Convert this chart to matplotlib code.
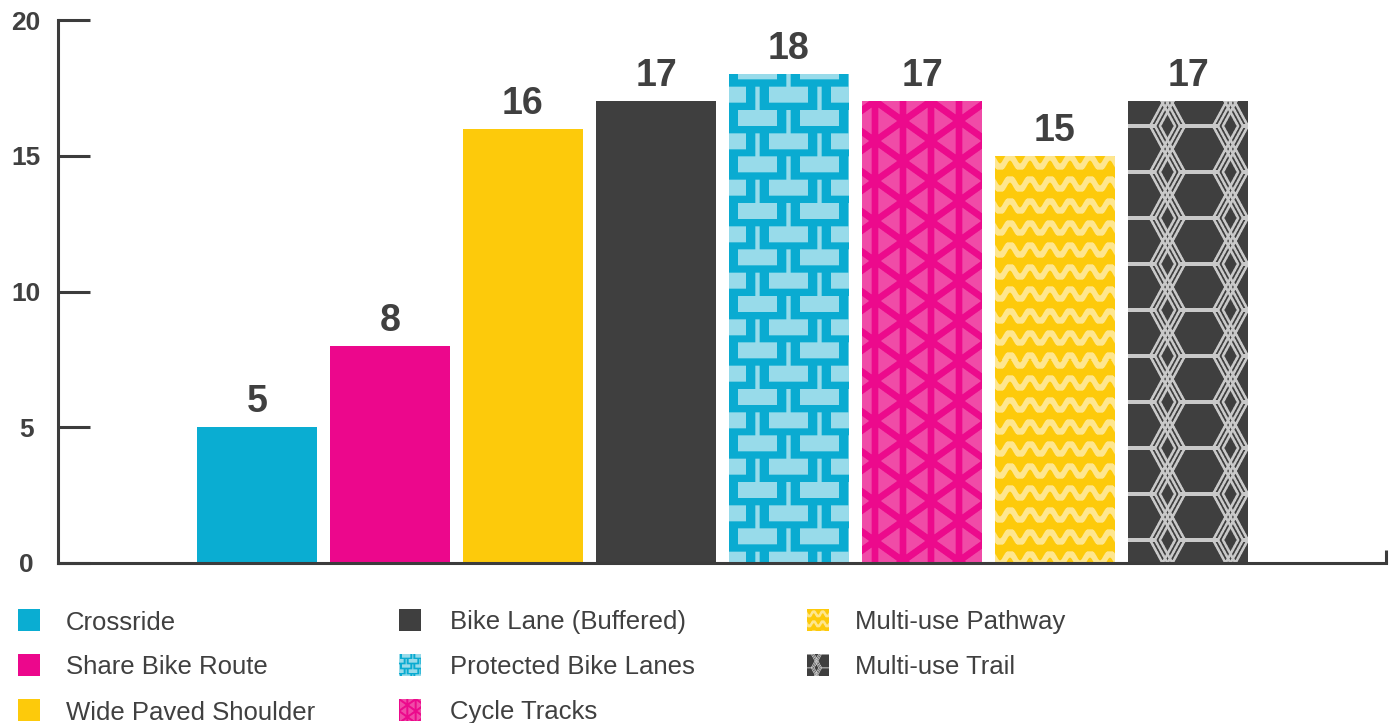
import numpy as np
import matplotlib
matplotlib.use('Agg')
import matplotlib.pyplot as plt
from matplotlib.colors import to_rgb

plt.rcParams['font.family'] = ['Liberation Sans', 'DejaVu Sans']

CATEGORIES = ['Crossride', 'Share Bike Route', 'Wide Paved Shoulder', 'Bike Lane (Buffered)',
              'Protected Bike Lanes', 'Cycle Tracks', 'Multi-use Pathway', 'Multi-use Trail']
VALUES = [5, 8, 16, 17, 18, 17, 15, 17]
BASE_COLORS = ['#0aadd2', '#ec078c', '#fdca0b', '#3f3f3f',
               '#0aabd1', '#ec0a8c', '#fdca0b', '#3f3f3f']
LIGHT_COLORS = [None, None, None, None, '#98dbea', '#f04ba7', '#fee68f', '#c9c9c9']
PATTERNS = [None, None, None, None, 'protected', 'cycle', 'pathway', 'trail']
LEGEND_SCALE = {'protected': 0.22, 'cycle': 0.3, 'pathway': 0.45, 'trail': 0.3}
# where the texture starts inside each bar (pattern pixels)
PATTERN_SHIFT = {'protected': (4, 10.5), 'cycle': (-13, 0), 'pathway': (0, 4), 'trail': (-8, -25)}
Y_TICKS = [0, 5, 10, 15, 20]

TEXT = '#404040'
AXIS = '#3c3c3c'
W, H = 1391, 723


# ---- texture masks (coordinates in pattern pixels, y down) ----
def mask_protected(X, Y):
    per = 46.5
    x = X % 62
    y = Y % per
    row_a = y < 16
    row_b = (y >= per / 2) & (y < per / 2 + 16)
    below_a = y < per / 2
    below_b = y >= per / 2
    in_a = (x >= 13) & (x < 52)
    xb = (x - 31) % 62
    in_b = (xb >= 13) & (xb < 52)
    strip_a = np.abs(((x - 1.5 + 31) % 62) - 31) < 2.3
    strip_b = np.abs(((xb - 1.5 + 31) % 62) - 31) < 2.3
    return (row_a & in_a) | (row_b & in_b) | (below_a & strip_a) | (below_b & strip_b)


def mask_cycle(X, Y):
    k = 20 / 28
    c = np.cos(np.arctan(k))
    d1 = (Y - k * X) % 40
    d1 = np.minimum(d1, 40 - d1) * c
    d2 = (Y + k * X) % 40
    d2 = np.minimum(d2, 40 - d2) * c
    dv = X % 28
    dv = np.minimum(dv, 28 - dv)
    hw = 3.4
    return (d1 > hw) & (d2 > hw) & (dv > hw)


def mask_pathway(X, Y):
    amp, per = 4.6, 20
    y = Y % 22 - 11
    yc = amp * np.sin(2 * np.pi * X / per)
    slope = amp * 2 * np.pi / per * np.cos(2 * np.pi * X / per)
    d = np.abs(y - yc) / np.sqrt(1 + slope ** 2)
    return d < 3.1


def mask_trail(X, Y):
    tw, th = 63, 46
    x = X % tw
    y = Y % th
    m = (np.minimum(y, th - y) < 2) & ((x <= 19) | (x >= 44))
    segs = [((19, 0), (31.5, 23)), ((31.5, 23), (19, 46)),
            ((44, 0), (31.5, 23)), ((31.5, 23), (44, 46))]
    for (x0, y0), (x1, y1) in segs:
        dx, dy = x1 - x0, y1 - y0
        n = np.hypot(dx, dy)
        nx, ny = -dy / n, dx / n
        s = (x - x0) * nx + (y - y0) * ny
        inside = (y >= min(y0, y1)) & (y <= max(y0, y1))
        for off in (-4.3, 0, 4.3):
            m |= inside & (np.abs(s - off) < 1.3)
    return m


MASKS = {'protected': mask_protected, 'cycle': mask_cycle,
         'pathway': mask_pathway, 'trail': mask_trail}


def render(kind, w, h, scale, base, light, shift=(0, 0), ss=3):
    xs = (np.arange(w * ss) + 0.5) / ss / scale + shift[0]
    ys = (np.arange(h * ss) + 0.5) / ss / scale + shift[1]
    X, Y = np.meshgrid(xs, ys)
    m = MASKS[kind](X, Y).astype(float)
    m = m.reshape(h, ss, w, ss).mean(axis=(1, 3))[..., None]
    return np.array(to_rgb(base)) * (1 - m) + np.array(to_rgb(light)) * m


fig = plt.figure(figsize=(W / 100, H / 100), dpi=100)
ax = fig.add_axes([58 / W, (H - 563) / H, 1328 / W, 543 / H])

x_pos = np.arange(len(VALUES))
bar_w = 120 / 133
xlim = ((58 - 257) / 133, (1386 - 257) / 133)

bars = ax.bar(x_pos, VALUES, width=bar_w, color=BASE_COLORS, linewidth=0, zorder=1)
ax.set_xlim(*xlim)
ax.set_ylim(0, 20)

for bar, kind, base, light in zip(bars, PATTERNS, BASE_COLORS, LIGHT_COLORS):
    if kind is None:
        continue
    x0, x1 = bar.get_x(), bar.get_x() + bar.get_width()
    h = bar.get_height()
    p0 = ax.transData.transform((x0, 0))
    p1 = ax.transData.transform((x1, h))
    wp, hp = int(round(p1[0] - p0[0])), int(round(p1[1] - p0[1]))
    img = render(kind, wp, hp, 1.0, base, light, PATTERN_SHIFT[kind])
    im = ax.imshow(img, extent=(x0, x1, 0, h), aspect='auto',
                   interpolation='nearest', zorder=1.5)
    im.set_clip_path(bar)

ax.set_xlim(*xlim)
ax.set_ylim(0, 20)

for x, v in zip(x_pos, VALUES):
    ax.annotate(str(v), (x, v), xytext=(0, 10.8), textcoords='offset points',
                ha='center', va='baseline', fontsize=27, fontweight='bold', color=TEXT)

# axes styling
for side in ('top', 'right'):
    ax.spines[side].set_visible(False)
for side in ('left', 'bottom'):
    ax.spines[side].set_color(AXIS)
    ax.spines[side].set_linewidth(2.2)
    ax.spines[side].set_zorder(3)

ax.set_yticks(Y_TICKS)
ax.tick_params(axis='y', direction='in', length=23, width=2.2, color=AXIS,
               pad=23, labelsize=19, labelcolor=TEXT)
for lab in ax.get_yticklabels():
    lab.set_horizontalalignment('center')
    lab.set_fontweight('bold')

ax.set_xticks([xlim[1]])
ax.tick_params(axis='x', direction='in', length=9.4, width=2.2, color=AXIS,
               labelbottom=False)

# legend drawn by hand: three columns
LEG_COLS = [(18, 66), (399, 450), (807, 855)]
LEG_ROWS = [620, 665, 710]
for i, name in enumerate(CATEGORIES):
    col, row = divmod(i, 3)
    sx, tx = LEG_COLS[col]
    cy = LEG_ROWS[row]
    lax = fig.add_axes([sx / W, (H - cy - 11) / H, 22 / W, 22 / H])
    lax.set_axis_off()
    kind = PATTERNS[i]
    if kind is None:
        lax.add_patch(plt.Rectangle((0, 0), 1, 1, color=BASE_COLORS[i],
                                    transform=lax.transAxes))
    else:
        img = render(kind, 22, 22, LEGEND_SCALE[kind], BASE_COLORS[i], LIGHT_COLORS[i])
        lax.imshow(img, extent=(0, 1, 0, 1), aspect='auto', interpolation='nearest')
    fig.text(tx / W, (H - cy - 9.5) / H, name, ha='left', va='baseline',
             fontsize=18.5, color=TEXT)

fig.savefig('out.png', dpi=100)
